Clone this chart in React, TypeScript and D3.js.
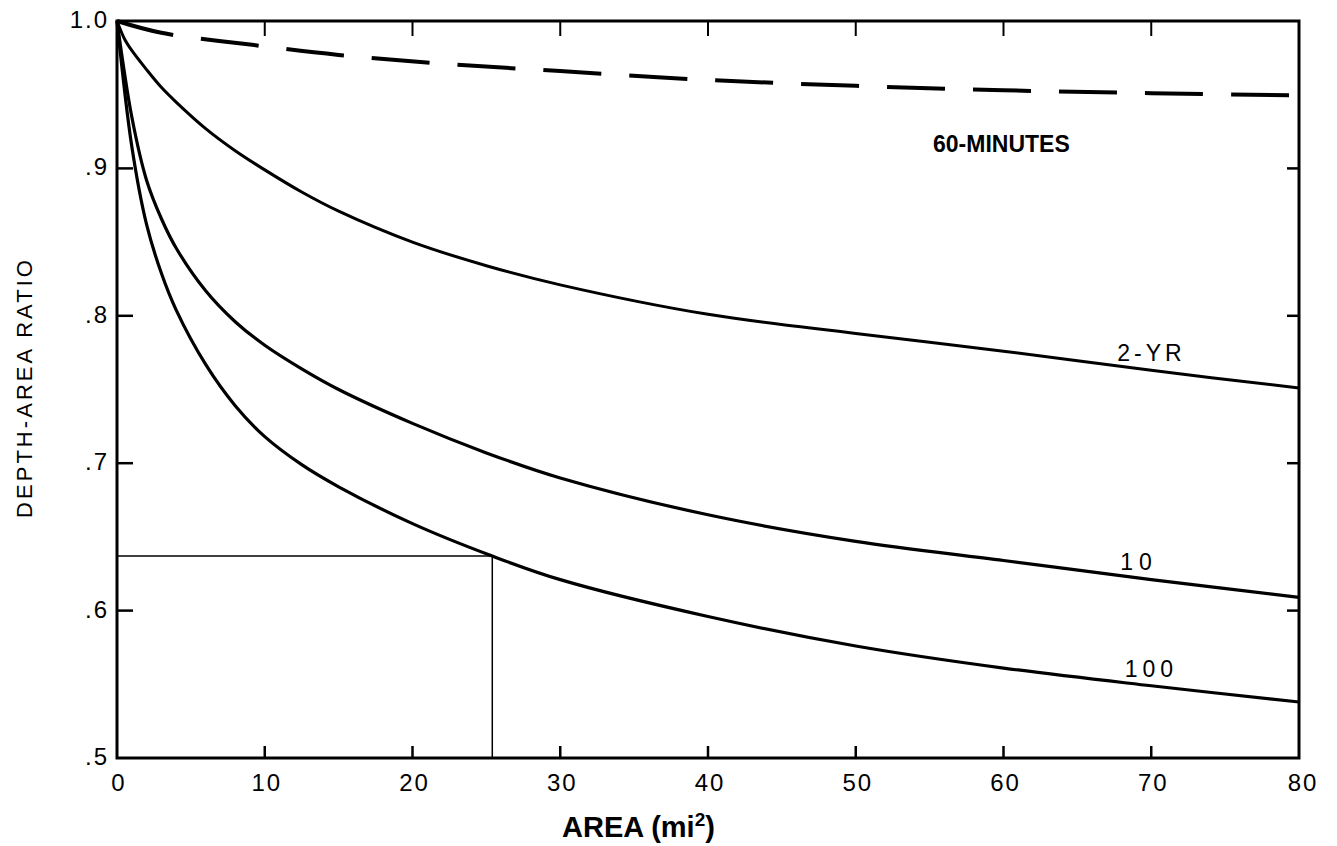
import React from "react";
import * as d3 from "d3";

const areas2yr = [0, 0.5, 1, 2, 3, 4, 6, 8, 10, 12.5, 15, 20, 25, 30, 40, 50, 60, 70, 80];
const ratios2yr = [1.0, 0.988, 0.980, 0.967, 0.955, 0.945, 0.927, 0.912, 0.899, 0.884, 0.871, 0.850, 0.834, 0.821, 0.801, 0.788, 0.776, 0.763, 0.751];

const areas10yr = [0, 1, 2, 3, 4, 6, 8, 10, 12.5, 15, 20, 25, 30, 40, 50, 60, 70, 80];
const ratios10yr = [1.0, 0.935, 0.892, 0.866, 0.846, 0.817, 0.796, 0.780, 0.764, 0.750, 0.727, 0.707, 0.690, 0.665, 0.647, 0.634, 0.621, 0.609];

const areas100yr = [0, 1, 2, 3, 4, 6, 8, 10, 12.5, 15, 20, 25.4, 30, 40, 50, 60, 70, 80];
const ratios100yr = [1.0, 0.915, 0.862, 0.829, 0.804, 0.767, 0.739, 0.718, 0.699, 0.684, 0.659, 0.637, 0.621, 0.596, 0.576, 0.561, 0.549, 0.538];

const areasDashed = [0, 3, 9, 15, 22, 30, 40, 50, 60, 70, 80];
const ratiosDashed = [1.0, 0.992, 0.984, 0.977, 0.971, 0.966, 0.960, 0.956, 0.953, 0.951, 0.9495];

const xTicks = [0, 10, 20, 30, 40, 50, 60, 70, 80];
const yTicks = [1.0, 0.9, 0.8, 0.7, 0.6, 0.5];
const yTickLabels = ["1.0", ".9", ".8", ".7", ".6", ".5"];

const exampleArea = 25.4;
const exampleRatio = 0.637;

const curveLabels = [
  { text: "2-YR", x: 67.7, y: 0.769, spacing: 4 },
  { text: "10", x: 67.9, y: 0.6275, spacing: 6 },
  { text: "100", x: 68.2, y: 0.555, spacing: 5 },
];

export default function App() {
  const W = 1337, H = 846;
  const left = 117, right = 1299, top = 21, bottom = 758;
  const x = d3.scaleLinear().domain([0, 80]).range([left, right]);
  const y = d3.scaleLinear().domain([0.5, 1.0]).range([bottom, top]);
  const line = d3.line<[number, number]>().x(d => x(d[0])).y(d => y(d[1])).curve(d3.curveCatmullRom.alpha(0.5));
  const zip = (a: number[], b: number[]) => a.map((v, i) => [v, b[i]] as [number, number]);
  const font = "'Liberation Sans', Arial, sans-serif";

  return (
    <svg width={W} height={H} style={{ position: "absolute", left: 0, top: 0, background: "#fff" }}>
      {/* frame */}
      <rect x={left} y={top} width={right - left} height={bottom - top} fill="none" stroke="#000" strokeWidth={3} />
      {/* ticks */}
      {xTicks.slice(1, -1).map(t => (
        <g key={"xt" + t}>
          <line x1={x(t)} x2={x(t)} y1={bottom} y2={bottom - 12} stroke="#000" strokeWidth={2.5} />
          <line x1={x(t)} x2={x(t)} y1={top} y2={top + 15} stroke="#000" strokeWidth={2} />
        </g>
      ))}
      {yTicks.slice(1, -1).map(t => (
        <g key={"yt" + t}>
          <line x1={left} x2={left + 16} y1={y(t)} y2={y(t)} stroke="#000" strokeWidth={2.5} />
          <line x1={right} x2={right - 12} y1={y(t)} y2={y(t)} stroke="#000" strokeWidth={2.5} />
        </g>
      ))}
      {/* tick labels */}
      {xTicks.map(t => (
        <text key={"xl" + t} x={x(t) + (t === 80 ? 4 : 2)} y={bottom + 33} textAnchor="middle" fontFamily={font} fontSize={24} letterSpacing={2} fill="#000">{t}</text>
      ))}
      {yTicks.map((t, i) => (
        <text key={"yl" + t} x={left - 8} y={y(t) + 7} textAnchor="end" fontFamily={font} fontSize={24} letterSpacing={2} fill="#000">{yTickLabels[i]}</text>
      ))}
      {/* reference example lines */}
      <line x1={x(0)} x2={x(exampleArea)} y1={y(exampleRatio)} y2={y(exampleRatio)} stroke="#000" strokeWidth={1.5} />
      <line x1={x(exampleArea)} x2={x(exampleArea)} y1={y(exampleRatio)} y2={bottom} stroke="#000" strokeWidth={1.5} />
      {/* curves */}
      <path d={line(zip(areas2yr, ratios2yr)) || ""} fill="none" stroke="#000" strokeWidth={3} />
      <path d={line(zip(areas10yr, ratios10yr)) || ""} fill="none" stroke="#000" strokeWidth={3.2} />
      <path d={line(zip(areas100yr, ratios100yr)) || ""} fill="none" stroke="#000" strokeWidth={3.2} />
      <path d={line(zip(areasDashed, ratiosDashed)) || ""} fill="none" stroke="#000" strokeWidth={4} strokeDasharray="58 28" />
      {/* curve labels */}
      {curveLabels.map(l => (
        <text key={l.text} x={x(l.x)} y={y(l.y)} fontFamily={font} fontSize={23} letterSpacing={l.spacing} fill="#000">{l.text}</text>
      ))}
      <text x={933} y={152} fontFamily={font} fontSize={23} fontWeight="bold" fill="#000">60-MINUTES</text>
      {/* axis titles */}
      <text x={562} y={837} fontFamily={font} fontSize={29} fontWeight="bold" fill="#000">
        AREA (mi<tspan dy={-11} fontSize={19}>2</tspan><tspan dy={11}>)</tspan>
      </text>
      <text transform={`translate(32, 389) rotate(-90)`} textAnchor="middle" fontFamily={font} fontSize={22} textLength={258} lengthAdjust="spacing" fill="#000">DEPTH-AREA RATIO</text>
    </svg>
  );
}
